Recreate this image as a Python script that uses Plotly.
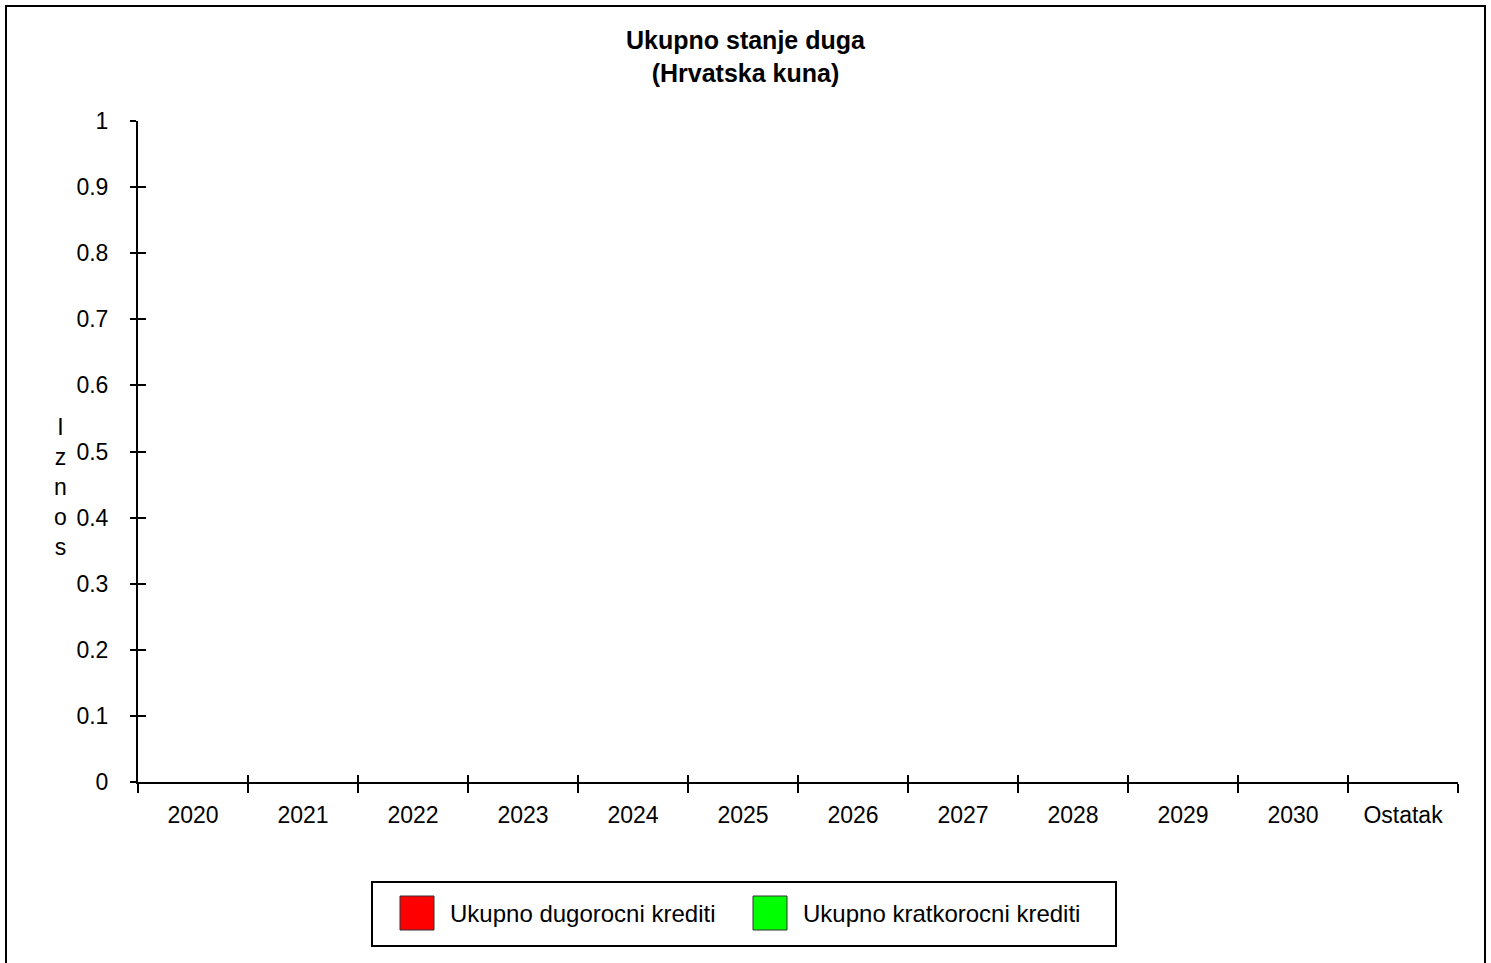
import plotly.graph_objects as go

# ---- data ----
categories = ["2020", "2021", "2022", "2023", "2024", "2025", "2026",
              "2027", "2028", "2029", "2030", "Ostatak"]
series_names = ["Ukupno dugorocni krediti", "Ukupno kratkorocni krediti"]
dugorocni = [0, 0, 0, 0, 0, 0, 0, 0, 0, 0, 0, 0]
kratkorocni = [0, 0, 0, 0, 0, 0, 0, 0, 0, 0, 0, 0]
y_ticks = [0, 0.1, 0.2, 0.3, 0.4, 0.5, 0.6, 0.7, 0.8, 0.9, 1]
title_lines = ["Ukupno stanje duga", "(Hrvatska kuna)"]
y_title = "Iznos"

# ---- styling / layout ----
W, H = 1491, 963
L, R, T, B = 138, 1458, 121, 782
FONT = "Arial, Liberation Sans, sans-serif"
colors = ["#ff0000", "#00ff00"]


def px(x):
    return (x - L) / (R - L)


def py(y):
    return (B - y) / (B - T)


fig = go.Figure()
for name, vals, col in zip(series_names, [dugorocni, kratkorocni], colors):
    fig.add_trace(go.Bar(x=categories, y=vals, name=name, marker_color=col,
                         marker_line_width=0, showlegend=False))
# helper trace so the overlay axes (crossing ticks) know the categories
fig.add_trace(go.Scatter(x=categories, y=dugorocni, mode="none", xaxis="x2",
                         yaxis="y2", showlegend=False, hoverinfo="skip"))

axis_font = dict(family=FONT, size=23, color="black")

fig.update_layout(
    width=W, height=H,
    margin=dict(l=L, r=W - R, t=T, b=H - B, pad=0),
    paper_bgcolor="white", plot_bgcolor="white",
    font=dict(family=FONT, color="black"),
    showlegend=False,
    barmode="group",
    xaxis=dict(type="category", categoryorder="array", categoryarray=categories,
               range=[-0.5, len(categories) - 0.5], showline=True,
               linecolor="black", linewidth=2, ticks="outside", ticklen=9,
               tickwidth=2, tickcolor="black", tickson="boundaries",
               tickfont=axis_font, showgrid=False, zeroline=False,
               ticklabelstandoff=11, fixedrange=True),
    yaxis=dict(range=[0, 1], tickvals=y_ticks, showline=True,
               linecolor="black", linewidth=2, ticks="outside", ticklen=6,
               tickwidth=2, tickcolor="black", tickfont=axis_font,
               showgrid=False, zeroline=False, ticklabelstandoff=17,
               fixedrange=True),
    xaxis2=dict(type="category", categoryorder="array", categoryarray=categories,
                range=[-0.5, len(categories) - 0.5], overlaying="x",
                anchor="y", side="bottom", showline=False, ticks="inside",
                ticklen=7, tickwidth=2, tickcolor="black",
                tickson="boundaries", showticklabels=False, showgrid=False,
                zeroline=False, fixedrange=True),
    yaxis2=dict(range=[0, 1], tickvals=y_ticks, overlaying="y", anchor="x",
                side="left", showline=False, ticks="inside", ticklen=8,
                tickwidth=2, tickcolor="black", showticklabels=False,
                showgrid=False, zeroline=False, fixedrange=True),
)

shapes = []
# outer frame
shapes.append(dict(type="rect", xref="paper", yref="paper",
                   x0=px(6), x1=px(1485), y0=py(975), y1=py(6),
                   line=dict(color="black", width=2), fillcolor="rgba(0,0,0,0)"))
# legend box
shapes.append(dict(type="rect", xref="paper", yref="paper",
                   x0=px(372), x1=px(1116), y0=py(946), y1=py(882),
                   line=dict(color="black", width=2), fillcolor="white"))

annotations = []
# title
annotations.append(dict(text="<b>" + "<br>".join(title_lines) + "</b>",
                        xref="paper", yref="paper", x=px(W / 2), y=py(56.5),
                        xanchor="center", yanchor="middle", showarrow=False,
                        font=dict(family=FONT, size=25, color="black")))
# vertical stacked y title
annotations.append(dict(text="<br>".join(list(y_title)), xref="paper",
                        yref="paper", x=px(60), y=py(487), xanchor="center",
                        yanchor="middle", showarrow=False,
                        font=dict(family=FONT, size=23, color="black")))

# legend entries
legend_x = [400, 753]
for name, col, lx in zip(series_names, colors, legend_x):
    shapes.append(dict(type="rect", xref="paper", yref="paper",
                       x0=px(lx), x1=px(lx + 34), y0=py(930), y1=py(896),
                       line=dict(color="#333333", width=1), fillcolor=col))
    annotations.append(dict(text=name, xref="paper", yref="paper",
                            x=px(lx + 48), y=py(913), xanchor="left",
                            yanchor="middle", showarrow=False,
                            font=dict(family=FONT, size=24, color="black")))

fig.update_layout(shapes=shapes, annotations=annotations)

fig.write_html("out.html",
               config={"displayModeBar": False},
               post_script="document.body.style.margin='0px';")
